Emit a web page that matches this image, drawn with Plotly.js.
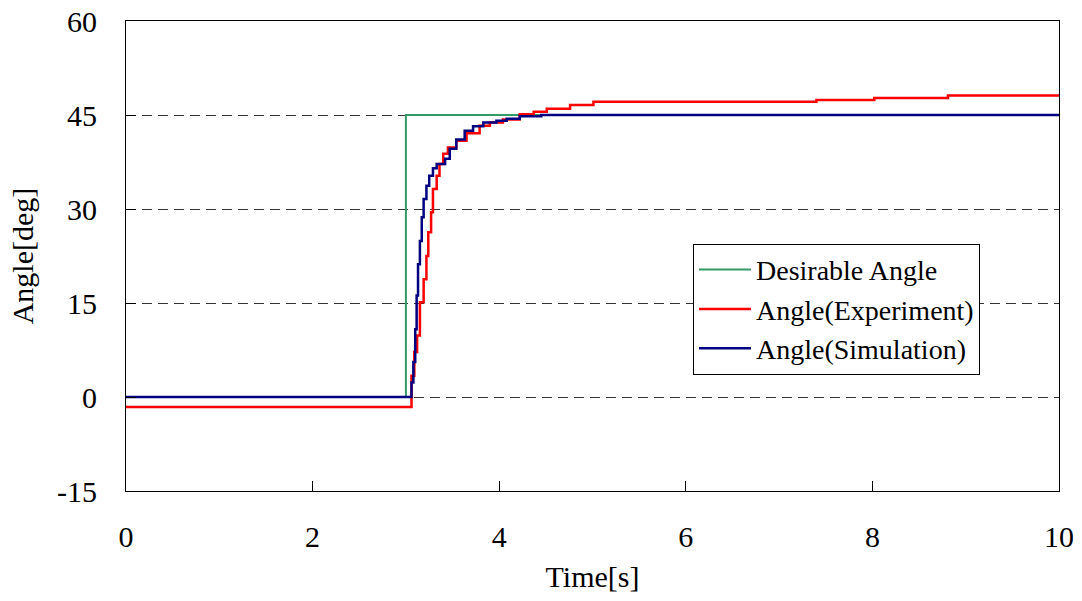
<!DOCTYPE html>
<html>
<head>
<meta charset="utf-8">
<script src="https://cdn.plot.ly/plotly-3.0.1.min.js"></script>
<style>html,body{margin:0;padding:0;background:#fff;}#chart{width:1082px;height:601px;}</style>
</head>
<body>
<div id="chart"></div>
<script>
const xTicks = [0, 2, 4, 6, 8, 10];
const yTicks = [-15, 0, 15, 30, 45, 60];

const desiredT = [0, 3.0, 10];
const desiredV = [0, 45, 45];

const expT = [0, 3.05, 3.06, 3.09, 3.12, 3.15, 3.19, 3.22, 3.24, 3.27, 3.29, 3.33, 3.36, 3.40, 3.45, 3.54, 3.65, 3.79, 3.90, 4.04, 4.22, 4.37, 4.51, 4.76, 5.01, 7.40, 8.02, 8.81, 10];
const expV = [-1.6, -1.6, 3.4, 7.2, 9.8, 15.1, 18.8, 22.5, 26.3, 29.5, 33.2, 35.3, 37.2, 38.8, 39.8, 40.9, 42.1, 43.3, 43.8, 44.3, 45.1, 45.5, 46.0, 46.6, 47.1, 47.4, 47.7, 48.1, 48.1];

const simT = [0, 3.06, 3.08, 3.10, 3.115, 3.13, 3.15, 3.17, 3.19, 3.22, 3.25, 3.29, 3.33, 3.42, 3.47, 3.54, 3.63, 3.72, 3.83, 3.97, 4.08, 4.22, 4.45, 5.10, 10];
const simV = [0, 2.3, 5.6, 10.8, 16.2, 21.2, 24.9, 28.7, 31.6, 33.7, 35.3, 36.5, 37.2, 38.0, 39.6, 41.1, 42.5, 43.2, 43.8, 44.1, 44.4, 44.8, 45.0, 45.0, 45.0];

const font = {family: '"Liberation Serif", "Times New Roman", serif', size: 30, color: '#000'};
const legendFont = {family: '"Liberation Serif", "Times New Roman", serif', size: 28, color: '#000'};

const traces = [
  {x: desiredT, y: desiredV, name: 'Desirable Angle', mode: 'lines', line: {color: '#339966', width: 2, shape: 'hv'}},
  {x: expT, y: expV, name: 'Angle(Experiment)', mode: 'lines', line: {color: '#FF0000', width: 2.5, shape: 'hv'}},
  {x: simT, y: simV, name: 'Angle(Simulation)', mode: 'lines', line: {color: '#000080', width: 2.5, shape: 'hv'}}
];

const layout = {
  width: 1082, height: 601,
  margin: {l: 126, r: 23, t: 21, b: 110},
  paper_bgcolor: '#fff', plot_bgcolor: '#fff',
  font: font,
  showlegend: true,
  legend: {
    x: 0.6077, y: 0.526, xanchor: 'left', yanchor: 'top',
    bgcolor: '#fff', bordercolor: '#000', borderwidth: 1,
    font: legendFont, itemwidth: 52, tracegroupgap: 0
  },
  xaxis: {
    range: [0, 10], tickvals: xTicks, ticktext: xTicks.map(String),
    showgrid: false, zeroline: false,
    showline: true, linecolor: '#000', linewidth: 1, mirror: true,
    ticks: 'inside', ticklen: 10, tickcolor: '#000',
    ticklabelstandoff: 19,
    title: {text: 'Time[s]', font: font, standoff: 13}
  },
  yaxis: {
    range: [-15, 60], tickvals: yTicks, ticktext: yTicks.map(String),
    showgrid: true, gridcolor: '#333', griddash: '10px,6px', gridwidth: 1,
    zeroline: false,
    showline: true, linecolor: '#000', linewidth: 1, mirror: true,
    ticks: 'inside', ticklen: 10, tickcolor: '#000',
    ticklabelstandoff: 22,
    title: {text: 'Angle[deg]', font: font, standoff: 14}
  }
};

Plotly.newPlot('chart', traces, layout, {displayModeBar: false, staticPlot: true});
</script>
</body>
</html>
